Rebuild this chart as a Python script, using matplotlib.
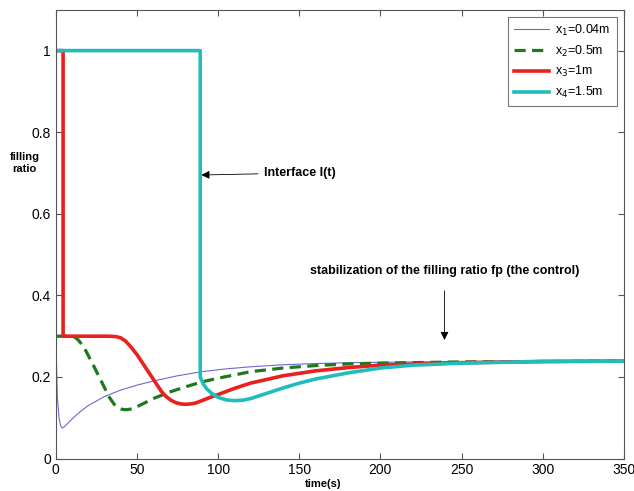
import matplotlib
matplotlib.use("Agg")
import matplotlib.pyplot as plt

plt.rcParams["font.family"] = ["Liberation Sans", "DejaVu Sans"]

# Filling ratio at the four positions along the pipe
t_x1 = [0, 0.5, 1, 2, 3, 4, 5, 7, 10, 15, 20, 30, 40, 50, 60, 75, 90, 105,
        120, 140, 160, 180, 200, 250, 300, 350]
fr_x1 = [0.30, 0.22, 0.15, 0.10, 0.08, 0.075, 0.077, 0.085, 0.097, 0.115, 0.13,
         0.152, 0.168, 0.18, 0.19, 0.203, 0.213, 0.22, 0.225, 0.23, 0.233,
         0.235, 0.236, 0.238, 0.239, 0.239]

t_x2 = [0, 10, 12, 14, 16, 18, 21, 24, 27, 30, 33, 36, 38, 40, 42, 44, 47, 50,
        55, 60, 70, 80, 90, 100, 120, 140, 160, 180, 200, 250, 300, 350]
fr_x2 = [0.30, 0.30, 0.297, 0.29, 0.28, 0.268, 0.245, 0.222, 0.198, 0.174,
         0.15, 0.133, 0.126, 0.122, 0.12, 0.12, 0.122, 0.127, 0.137, 0.147,
         0.163, 0.176, 0.188, 0.197, 0.213, 0.222, 0.228, 0.232, 0.234, 0.237,
         0.238, 0.239]

t_x3 = [0, 4.5, 4.5, 20, 33, 37, 40, 43, 46, 50, 55, 60, 65, 68, 71, 74, 77,
        80, 83, 86, 90, 95, 100, 110, 120, 140, 160, 180, 200, 250, 300, 350]
fr_x3 = [1.0, 1.0, 0.30, 0.30, 0.30, 0.299, 0.296, 0.288, 0.275, 0.255, 0.225,
         0.195, 0.165, 0.152, 0.143, 0.137, 0.134, 0.133, 0.134, 0.136, 0.142,
         0.15, 0.157, 0.172, 0.185, 0.203, 0.215, 0.223, 0.229, 0.235, 0.238,
         0.239]

t_x4 = [0, 89, 89, 91, 93, 96, 100, 105, 110, 115, 120, 130, 140, 150, 160,
        180, 200, 220, 250, 300, 350]
fr_x4 = [1.0, 1.0, 0.20, 0.182, 0.171, 0.16, 0.15, 0.144, 0.142, 0.143, 0.147,
         0.16, 0.173, 0.185, 0.195, 0.21, 0.222, 0.229, 0.234, 0.238, 0.239]

labels = ["x$_1$=0.04m", "x$_2$=0.5m", "x$_3$=1m", "x$_4$=1.5m"]

fig = plt.figure(figsize=(6.34, 4.91), dpi=100)
ax = fig.add_axes([0.088, 0.066, 0.896, 0.914])

ax.plot(t_x1, fr_x1, color="#6a6ad0", lw=0.8, label=labels[0])
ax.plot(t_x2, fr_x2, color="#1c7a1c", lw=2.3, ls=(0, (3.5, 2)), label=labels[1])
ax.plot(t_x3, fr_x3, color="#e8201e", lw=2.6, label=labels[2])
ax.plot(t_x4, fr_x4, color="#22bcbc", lw=2.6, label=labels[3])

ax.set_xlim(0, 350)
ax.set_ylim(0, 1.1)
ax.set_xticks([0, 50, 100, 150, 200, 250, 300, 350])
ax.set_yticks([0, 0.2, 0.4, 0.6, 0.8, 1])
ax.set_yticklabels(["0", "0.2", "0.4", "0.6", "0.8", "1"])
ax.tick_params(direction="in", top=True, right=True, labelsize=10,
               color="#555555", length=4)
for sp in ax.spines.values():
    sp.set_color("#555555")

fig.text(0.039, 0.668, "filling\nratio", ha="center", va="center",
         fontsize=8, fontweight="bold", linespacing=1.3)
fig.text(0.51, 0.015, "time(s)", ha="center", va="center",
         fontsize=8, fontweight="bold")

ax.annotate("Interface I(t)", xy=(88, 0.695), xytext=(128, 0.70),
            fontsize=9, fontweight="bold", va="center",
            arrowprops=dict(arrowstyle="-|>", color="black", lw=0.6,
                            mutation_scale=12))
ax.annotate("stabilization of the filling ratio fp (the control)",
            xy=(239.5, 0.284), xytext=(239.5, 0.46),
            fontsize=9, fontweight="bold", ha="center", va="center",
            arrowprops=dict(arrowstyle="-|>", color="black", lw=0.6,
                            mutation_scale=12, shrinkA=8))

leg = ax.legend(loc="upper right", fontsize=9, handlelength=2.8,
                handletextpad=0.5, fancybox=False, borderpad=0.5,
                labelspacing=0.45, bbox_to_anchor=(0.999, 0.999))
leg.get_frame().set_edgecolor("#555555")
leg.get_frame().set_linewidth(0.8)

fig.savefig("out.png", dpi=100)
